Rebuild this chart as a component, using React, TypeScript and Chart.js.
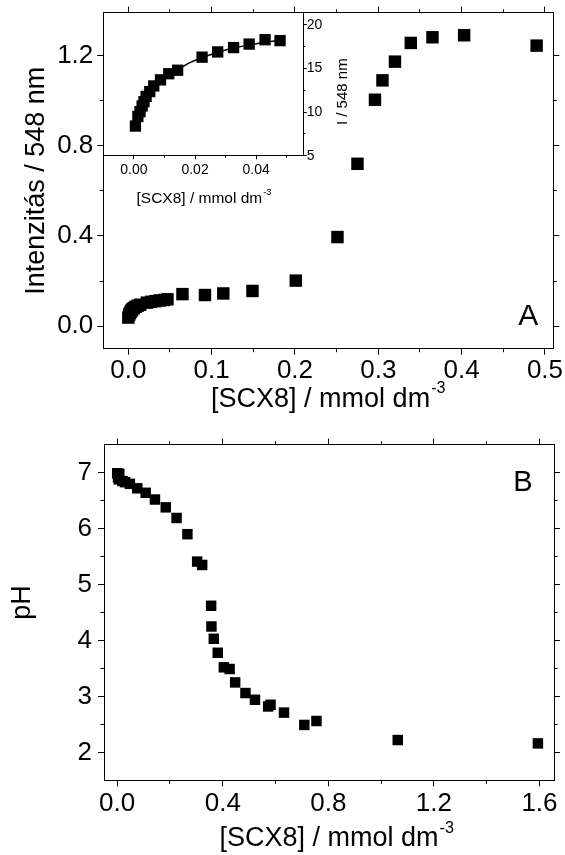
import React, { useEffect, useRef } from 'react';
import { Chart, registerables } from 'chart.js';

Chart.register(...registerables);

const FONT = '"Liberation Sans", Arial, Helvetica, sans-serif';

// ---------- Panel A (main) : [SCX8] vs intensity at 548 nm ----------
const aConc = [0, 0.001, 0.002, 0.003, 0.004, 0.005, 0.0065, 0.0087, 0.0114, 0.0143, 0.0223, 0.0274, 0.0326, 0.0377, 0.0429, 0.047,
  0.065, 0.092, 0.114, 0.149, 0.201, 0.251, 0.275, 0.296, 0.305, 0.32, 0.339, 0.365, 0.403, 0.49];
const aInt = [0.038, 0.05, 0.058, 0.065, 0.07, 0.075, 0.08, 0.086, 0.091, 0.095, 0.104, 0.108, 0.111, 0.114, 0.116, 0.119,
  0.142, 0.138, 0.145, 0.156, 0.202, 0.395, 0.72, 1.004, 1.09, 1.173, 1.256, 1.281, 1.29, 1.244];

// ---------- Inset ----------
const insetConc = [0.0005, 0.0013, 0.002, 0.0027, 0.0033, 0.004, 0.0052, 0.0065, 0.0087, 0.0114, 0.0143, 0.0223, 0.0274, 0.0326, 0.0377, 0.0429, 0.0478];
const insetInt = [8.4, 9.5, 10.05, 10.7, 11.2, 11.8, 12.35, 13.0, 13.7, 14.4, 14.8, 16.3, 16.9, 17.4, 17.8, 18.3, 18.2];
const insetFitConc = [0, 0.001, 0.002, 0.003, 0.005, 0.0075, 0.01, 0.0125, 0.015, 0.0185, 0.022, 0.027, 0.032, 0.037, 0.042, 0.048];
const insetFitInt = [8.4, 9.5, 10.4, 11.2, 12.4, 13.4, 14.0, 14.5, 15.0, 15.7, 16.2, 16.8, 17.3, 17.65, 17.95, 18.25];

// ---------- Panel B : [SCX8] vs pH ----------
const bConc = [0, 0.008, 0.003, 0.006, 0.02, 0.03, 0.048, 0.076, 0.108, 0.143, 0.184, 0.225, 0.266, 0.303, 0.322, 0.356, 0.357, 0.366,
  0.381, 0.404, 0.426, 0.447, 0.486, 0.522, 0.572, 0.581, 0.632, 0.709, 0.755, 1.063, 1.594];
const bPH = [6.99, 6.98, 6.92, 6.88, 6.85, 6.83, 6.8, 6.72, 6.64, 6.52, 6.38, 6.19, 5.9, 5.41, 5.35, 4.62, 4.25, 4.03,
  3.78, 3.52, 3.49, 3.25, 3.06, 2.94, 2.82, 2.85, 2.71, 2.49, 2.56, 2.22, 2.16];

// ---------- Tick values ----------
const aXMajor = [0, 0.1, 0.2, 0.3, 0.4, 0.5];
const aXMinor = [0.05, 0.15, 0.25, 0.35, 0.45];
const aYMajor = [0, 0.4, 0.8, 1.2];
const aYMinor = [0.2, 0.6, 1.0];
const insetXMajor = [0, 0.02, 0.04];
const insetXMinor = [0.01, 0.03, 0.05];
const insetYMajor = [5, 10, 15, 20];
const insetYMinor = [7.5, 12.5, 17.5];
const bXMajor = [0, 0.4, 0.8, 1.2, 1.6];
const bXMinor = [0.2, 0.6, 1.0, 1.4];
const bYMajor = [2, 3, 4, 5, 6, 7];
const bYMinor = [2.5, 3.5, 4.5, 5.5, 6.5];

interface AxisSpec {
  axis: 'x' | 'y';
  position: 'left' | 'right' | 'top' | 'bottom';
  min: number;
  max: number;
  values: number[];
  tickLength: number;
  size: number;
  weight: number;
  border: boolean;
  fontSize?: number;
  padding?: number;
  decimals?: number;
}

function buildScale(s: AxisSpec) {
  const showLabels = s.fontSize !== undefined;
  return {
    type: 'linear',
    axis: s.axis,
    position: s.position,
    min: s.min,
    max: s.max,
    weight: s.weight,
    offset: false,
    grid: {
      display: true,
      drawOnChartArea: false,
      drawTicks: true,
      tickLength: s.tickLength,
      tickColor: '#000',
      tickWidth: 1,
      lineWidth: 1,
      color: '#000',
    },
    border: { display: s.border, color: '#000', width: 1 },
    ticks: {
      display: showLabels,
      padding: s.padding ?? 0,
      color: '#000',
      font: { family: FONT, size: s.fontSize ?? 12 },
      autoSkip: false,
      maxRotation: 0,
      minRotation: 0,
      callback: (v: any) => (showLabels ? Number(v).toFixed(s.decimals ?? 0) : ''),
    },
    afterBuildTicks: (sc: any) => {
      sc.ticks = s.values.map((v) => ({ value: v }));
    },
    afterFit: (sc: any) => {
      sc.paddingLeft = 0;
      sc.paddingRight = 0;
      sc.paddingTop = 0;
      sc.paddingBottom = 0;
      if (s.axis === 'x') sc.height = s.size;
      else sc.width = s.size;
    },
  };
}

interface FrameSpec {
  xMin: number; xMax: number; yMin: number; yMax: number;
  xMajor: number[]; xMinor: number[]; yMajor: number[]; yMinor: number[];
  major: number; minor: number;
  xSize: number; ySize: number;
  font: number; xPad: number; yPad: number; xDec: number; yDec: number;
}

function frameScales(f: FrameSpec) {
  return {
    x: buildScale({ axis: 'x', position: 'bottom', min: f.xMin, max: f.xMax, values: f.xMajor, tickLength: f.major, size: f.xSize, weight: 1, border: true, fontSize: f.font, padding: f.xPad, decimals: f.xDec }),
    xMinor: buildScale({ axis: 'x', position: 'bottom', min: f.xMin, max: f.xMax, values: f.xMinor, tickLength: f.minor, size: 0, weight: 0, border: false }),
    xTop: buildScale({ axis: 'x', position: 'top', min: f.xMin, max: f.xMax, values: f.xMajor, tickLength: f.major, size: 0, weight: 1, border: true }),
    xTopMinor: buildScale({ axis: 'x', position: 'top', min: f.xMin, max: f.xMax, values: f.xMinor, tickLength: f.minor, size: 0, weight: 0, border: false }),
    y: buildScale({ axis: 'y', position: 'left', min: f.yMin, max: f.yMax, values: f.yMajor, tickLength: f.major, size: f.ySize, weight: 1, border: true, fontSize: f.font, padding: f.yPad, decimals: f.yDec }),
    yMinor: buildScale({ axis: 'y', position: 'left', min: f.yMin, max: f.yMax, values: f.yMinor, tickLength: f.minor, size: 0, weight: 0, border: false }),
    yRight: buildScale({ axis: 'y', position: 'right', min: f.yMin, max: f.yMax, values: f.yMajor, tickLength: f.major, size: 0, weight: 1, border: true }),
    yRightMinor: buildScale({ axis: 'y', position: 'right', min: f.yMin, max: f.yMax, values: f.yMinor, tickLength: f.minor, size: 0, weight: 0, border: false }),
  };
}

interface TextItem {
  text: string;
  sup?: string;
  size: number;
  x: number;
  y: number;
  rot?: number;
  align: 'left' | 'center';
}

function textPlugin(items: TextItem[]) {
  return {
    id: 'figureTexts',
    afterDraw(chart: any) {
      const ctx = chart.ctx;
      for (const it of items) {
        ctx.save();
        ctx.translate(it.x, it.y);
        if (it.rot) ctx.rotate(it.rot);
        ctx.fillStyle = '#000';
        ctx.textBaseline = 'alphabetic';
        ctx.textAlign = 'left';
        const mainFont = `${it.size}px ${FONT}`;
        const supSize = it.size * 0.6;
        const supFont = `${supSize}px ${FONT}`;
        ctx.font = mainFont;
        const w = ctx.measureText(it.text).width;
        let sw = 0;
        if (it.sup) {
          ctx.font = supFont;
          sw = ctx.measureText(it.sup).width + 1;
        }
        const total = w + sw;
        const start = it.align === 'center' ? -total / 2 : 0;
        ctx.font = mainFont;
        ctx.fillText(it.text, start, 0);
        if (it.sup) {
          ctx.font = supFont;
          ctx.fillText(it.sup, start + w + 1, -it.size * 0.5);
        }
        ctx.restore();
      }
    },
  };
}

const baseOptions = {
  responsive: false,
  animation: false,
  events: [],
  plugins: { legend: { display: false }, tooltip: { enabled: false }, title: { display: false } },
};

function pts(xs: number[], ys: number[]) {
  return xs.map((x, i) => ({ x, y: ys[i] }));
}

function squares(xs: number[], ys: number[], r: number) {
  return {
    data: pts(xs, ys),
    showLine: false,
    pointStyle: 'rect',
    pointRadius: r,
    pointBackgroundColor: '#000',
    pointBorderWidth: 0,
    borderColor: '#000',
    clip: false,
  };
}

export default function App() {
  const refA = useRef<HTMLCanvasElement>(null);
  const refInset = useRef<HTMLCanvasElement>(null);
  const refB = useRef<HTMLCanvasElement>(null);

  useEffect(() => {
    document.body.style.margin = '0';

    const chartA = new Chart(refA.current as HTMLCanvasElement, {
      type: 'scatter',
      data: { datasets: [squares(aConc, aInt, 8.8)] as any },
      options: {
        ...baseOptions,
        layout: { autoPadding: false, padding: { left: 0, top: 12.7, right: 11.7, bottom: 0 } },
        scales: frameScales({
          xMin: -0.03, xMax: 0.51, yMin: -0.1, yMax: 1.39,
          xMajor: aXMajor, xMinor: aXMinor, yMajor: aYMajor, yMinor: aYMinor,
          major: 6, minor: 3.5, xSize: 71.3, ySize: 103.3,
          font: 26, xPad: 1, yPad: 4, xDec: 1, yDec: 1,
        }) as any,
      } as any,
      plugins: [
        textPlugin([
          { text: '[SCX8] / mmol dm', sup: '-3', size: 27, x: 328.3, y: 406.7, align: 'center' },
          { text: 'Intenzitás / 548 nm', size: 27, x: 44, y: 180.7, rot: -Math.PI / 2, align: 'center' },
          { text: 'A', size: 30, x: 518.3, y: 325, align: 'left' },
        ]),
      ],
    });

    const chartInset = new Chart(refInset.current as HTMLCanvasElement, {
      type: 'scatter',
      data: {
        datasets: [
          {
            data: pts(insetFitConc, insetFitInt),
            showLine: true,
            pointRadius: 0,
            borderColor: '#000',
            borderWidth: 1.5,
            tension: 0.4,
            cubicInterpolationMode: 'monotone',
            fill: false,
          },
          squares(insetConc, insetInt, 8),
        ] as any,
      },
      options: {
        ...baseOptions,
        layout: { autoPadding: false, padding: { left: 103.3, top: 12.7, right: 0, bottom: 0 } },
        scales: {
          x: buildScale({ axis: 'x', position: 'bottom', min: -0.01, max: 0.0554, values: insetXMajor, tickLength: 3.5, size: 74.3, weight: 1, border: true, fontSize: 14, padding: 2.5, decimals: 2 }),
          xMinor: buildScale({ axis: 'x', position: 'bottom', min: -0.01, max: 0.0554, values: insetXMinor, tickLength: 2, size: 0, weight: 0, border: false }),
          y: buildScale({ axis: 'y', position: 'right', min: 5, max: 21.4, values: insetYMajor, tickLength: 3.5, size: 96.7, weight: 1, border: true, fontSize: 14, padding: 0, decimals: 0 }),
          yMinor: buildScale({ axis: 'y', position: 'right', min: 5, max: 21.4, values: insetYMinor, tickLength: 2, size: 0, weight: 0, border: false }),
        } as any,
      } as any,
      plugins: [
        textPlugin([
          { text: '[SCX8] / mmol dm', sup: '-3', size: 15.5, x: 204, y: 202.7, align: 'center' },
          { text: 'I / 548 nm', size: 15, x: 347, y: 91.7, rot: -Math.PI / 2, align: 'center' },
        ]),
      ],
    });

    const chartB = new Chart(refB.current as HTMLCanvasElement, {
      type: 'scatter',
      data: { datasets: [squares(bConc, bPH, 7.4)] as any },
      options: {
        ...baseOptions,
        layout: { autoPadding: false, padding: { left: 0, top: 24.7, right: 11, bottom: 0 } },
        scales: frameScales({
          xMin: -0.05, xMax: 1.655, yMin: 1.5, yMax: 7.5,
          xMajor: bXMajor, xMinor: bXMinor, yMajor: bYMajor, yMinor: bYMinor,
          major: 6, minor: 3.5, xSize: 74.7, ySize: 104,
          font: 26, xPad: 2, yPad: 6, xDec: 1, yDec: 0,
        }) as any,
      } as any,
      plugins: [
        textPlugin([
          { text: '[SCX8] / mmol dm', sup: '-3', size: 27, x: 336.7, y: 426, align: 'center' },
          { text: 'pH', size: 27, x: 30, y: 182.5, rot: -Math.PI / 2, align: 'center' },
          { text: 'B', size: 29, x: 513.3, y: 70.7, align: 'left' },
        ]),
      ],
    });

    return () => {
      chartA.destroy();
      chartInset.destroy();
      chartB.destroy();
    };
  }, []);

  return (
    <div style={{ position: 'fixed', left: 0, top: 0, width: 565, height: 855, background: '#fff' }}>
      <canvas ref={refA} width={565} height={420} style={{ position: 'absolute', left: 0, top: 0 }} />
      <canvas ref={refInset} width={400} height={230} style={{ position: 'absolute', left: 0, top: 0 }} />
      <canvas ref={refB} width={565} height={435} style={{ position: 'absolute', left: 0, top: 420 }} />
    </div>
  );
}
